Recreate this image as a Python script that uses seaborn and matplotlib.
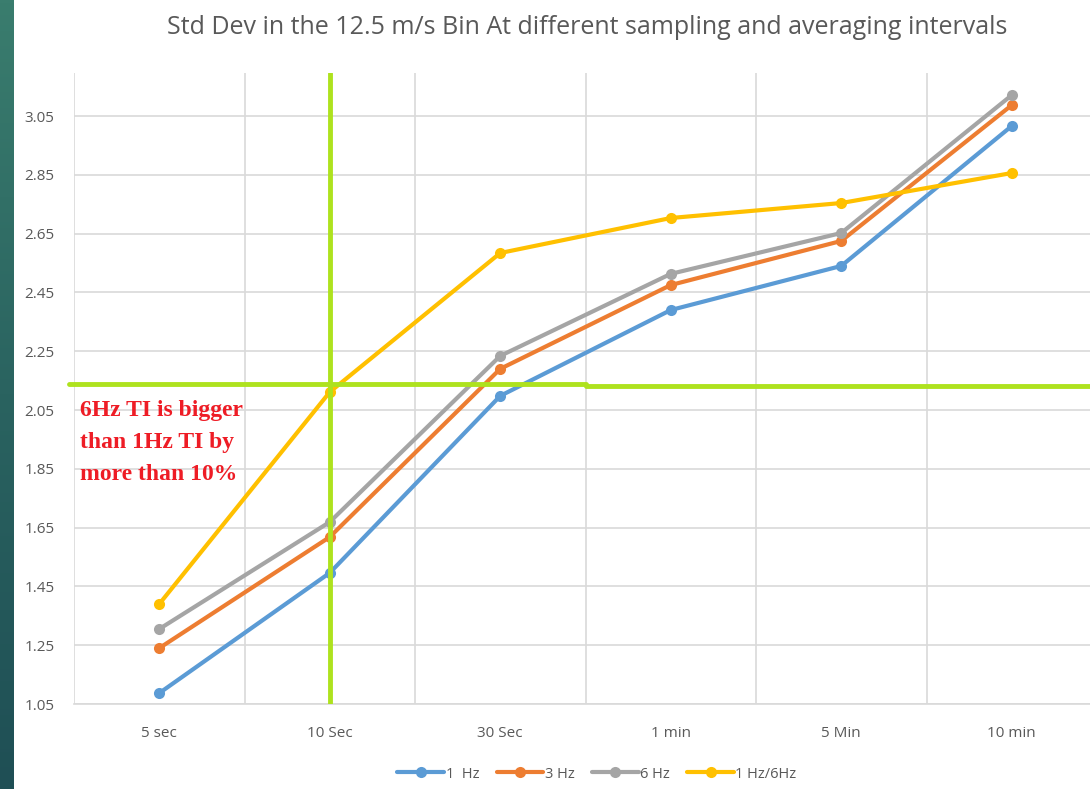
import numpy as np
import pandas as pd
import matplotlib
matplotlib.use("Agg")
import matplotlib.pyplot as plt
import seaborn as sns
from matplotlib.colors import LinearSegmentedColormap

categories = ["5 sec", "10 Sec", "30 Sec", "1 min", "5 Min", "10 min"]
hz1 = [1.087, 1.496, 2.098, 2.390, 2.540, 3.016]
hz3 = [1.240, 1.618, 2.190, 2.475, 2.625, 3.087]
hz6 = [1.305, 1.669, 2.234, 2.513, 2.652, 3.121]
ratio = [1.390, 2.111, 2.584, 2.703, 2.754, 2.856]
series_names = ["1  Hz", "3 Hz", "6 Hz", "1 Hz/6Hz"]
y_ticks = [1.05, 1.25, 1.45, 1.65, 1.85, 2.05, 2.25, 2.45, 2.65, 2.85, 3.05]
threshold_left = 2.138
threshold_right = 2.132
title = "Std Dev in the 12.5 m/s Bin At different sampling and averaging intervals"
note = "6Hz TI is bigger\nthan 1Hz TI by\nmore than 10%"

sns.set_theme(style="white")
plt.rcParams['font.family'] = ['Open Sans', 'DejaVu Sans']

rows = []
for name, vals in zip(series_names, [hz1, hz3, hz6, ratio]):
    for i, v in enumerate(vals):
        rows.append({"x": i, "value": v, "series": name})
df = pd.DataFrame(rows)

palette = {"1  Hz": "#5b9bd5", "3 Hz": "#ed7d31", "6 Hz": "#a5a5a5", "1 Hz/6Hz": "#ffc000"}

fig = plt.figure(figsize=(10.9, 7.89), dpi=100)
fig.patch.set_facecolor("white")

# left teal strip
strip = fig.add_axes([0, 0, 14 / 1090, 1])
grad = np.linspace(0, 1, 256).reshape(-1, 1)
cmap = LinearSegmentedColormap.from_list("teal", ["#3a7d6e", "#2a6360", "#1f4f55"])
strip.imshow(grad, aspect="auto", cmap=cmap)
strip.axis("off")

ax = fig.add_axes([74 / 1090, 1 - 704 / 789, 1023 / 1090, (704 - 73) / 789])
sns.lineplot(data=df, x="x", y="value", hue="series", palette=palette,
             marker="o", markersize=8, markeredgewidth=0, linewidth=3,
             ax=ax, sort=False, estimator=None, zorder=3)

ax.set_xlim(-0.5, 5.5)
ax.set_ylim(1.05, 1.05 + (704 - 73) / 294)
ax.set_yticks(y_ticks)
ax.set_yticklabels([f"{t:.2f}" for t in y_ticks])
ax.set_xticks(range(len(categories)))
ax.set_xticklabels(categories)
ax.set_xticks(np.arange(-0.5, 6.0, 1.0), minor=True)
ax.tick_params(axis="both", which="both", length=0, labelsize=11, colors="#595959")
ax.tick_params(axis="x", pad=16)
ax.tick_params(axis="y", pad=14)
ax.grid(False)
ax.grid(True, axis="y", which="major", color="#d9d9d9", linewidth=1.2, zorder=0)
ax.grid(True, axis="x", which="minor", color="#d9d9d9", linewidth=1.2, zorder=0)
for s in ["top", "right", "left"]:
    ax.spines[s].set_visible(False)
ax.spines["bottom"].set_color("#d9d9d9")
ax.spines["bottom"].set_linewidth(1.2)
ax.set_xlabel("")
ax.set_ylabel("")

green = "#aee21e"
ax.plot([-0.53, 2.5], [threshold_left, threshold_left], color=green, linewidth=3.5, zorder=5, clip_on=False)
ax.plot([2.5, 5.5], [threshold_right, threshold_right], color=green, linewidth=3.5, zorder=5)
ax.axvline(1, color=green, linewidth=3.5, zorder=5)

ax.text(6 / 1023, (704 - 400) / 631, note, transform=ax.transAxes,
        color="#ee1c25", fontsize=17, fontweight="bold",
        family="Liberation Serif", va="top", ha="left", linespacing=1.7, zorder=6)

leg = ax.legend(loc="center", bbox_to_anchor=(523 / 1023, (704 - 774) / 631),
                ncol=4, frameon=False, fontsize=10.5, handlelength=3.2,
                columnspacing=1.2, handletextpad=0.1)
for t in leg.get_texts():
    t.set_color("#595959")

fig.text(587 / 1090, 1 - 28 / 789, title, ha="center", va="center",
         fontsize=18, color="#595959")

fig.savefig("out.png", dpi=100)
